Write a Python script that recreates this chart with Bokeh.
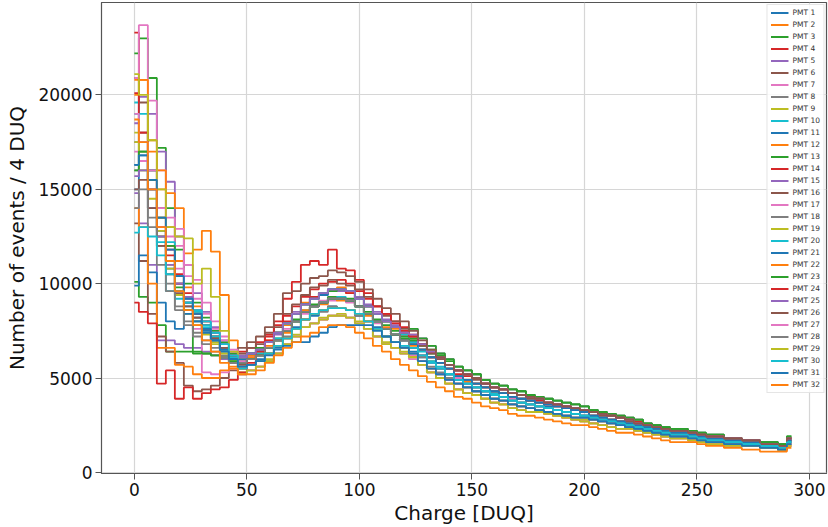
from bokeh.plotting import figure
from bokeh.models import Legend, LegendItem, FixedTicker, Range1d
from bokeh.embed import file_html
from bokeh.resources import INLINE

# Bin centres of the 4-DUQ charge bins (74 bins, 0 .. 292 DUQ)
charge = list(range(0, 293, 4))

# Counts per bin, in hundreds of events
UNIT = 100
pmt01 = [163,170,150,128,112,100,90,82,76,70,65,60,
         55,57,60,63,66,71,77,81,83,86,88,87,86,83,80,77,72,69,66,
         64,61,58,55,52,49,47,45,43,41, 40,38,37,36,35,34,33,32,31,30,
         29,28,27,26,25,24,23,22,21,21, 20,19,18,17,17,16,16,15,15,14, 14,13,16]
pmt02 = [208,208,176,150,130,112,98,88,80,74,68,63,
         61,62,65,70,74,78,84,90,92,95,96,98,95,93,88,84,80,76,73,
         69,65,61,58,55,51,49,47,45,43, 42,40,39,38,37,36,35,34,33,32,
         30,29,28,27,26,25,24,23,22,21, 21,20,19,18,18,17,17,16,16,15, 15,14,17]
pmt03 = [222,230,209,172,140,118,100,90,82,75,69,63,
         59,60,63,66,71,75,81,85,89,90,93,92,92,88,85,81,78,75,72,
         71,67,63,60,57,54,52,50,47,45, 44,42,41,40,39,37,36,35,34,33,
         32,31,30,29,28,26,25,24,23,22, 22,21,20,19,19,18,18,17,17,15, 15,14,18]
pmt04 = [233,180,160,135,120,105,95,86,80,74,68,62,
         64,66,69,73,78,83,88,93,97,100,101,102,100,96,92,88,84,80,77,
         73,68,64,61,57,54,51,50,47,45, 44,42,41,40,38,37,36,35,34,33,
         32,31,30,29,28,27,25,24,23,22, 22,21,20,19,19,18,18,17,16,15, 15,14,18]
pmt05 = [185,199,190,170,154,125,110,95,85,77,70,64,
         62,63,66,69,73,79,85,89,93,94,97,96,96,93,89,85,81,78,75,
         76,71,67,63,60,56,54,52,49,47, 46,44,43,41,40,39,38,37,36,35,
         33,32,31,30,29,28,26,25,24,23, 23,22,21,20,20,18,18,17,17,16, 16,15,18]
pmt06 = [209,196,160,140,118,104,93,85,78,72,66,61,
         63,66,68,74,77,84,89,94,98,99,102,100,99,97,93,88,83,80,76,
         72,68,64,60,57,54,52,49,47,45, 44,42,41,39,39,37,36,35,34,33,
         32,30,30,29,27,26,25,24,23,22, 22,21,20,19,18,18,17,17,16,15, 15,14,17]
pmt07 = [209,237,197,160,135,120,104,92,84,76,70,64,
         59,61,62,66,70,76,80,84,88,91,91,92,90,88,84,79,76,73,70,
         66,62,58,55,52,50,47,45,43,41, 40,39,37,36,35,34,33,32,31,30,
         29,28,27,26,25,24,23,22,21,20, 20,19,18,17,17,16,16,15,15,14, 14,13,16]
pmt08 = [160,180,150,130,112,100,90,82,76,71,66,61,
         56,57,59,63,67,72,76,81,84,85,88,87,86,83,80,76,72,69,66,
         63,59,55,52,49,47,45,43,41,39, 38,36,35,34,33,32,31,30,29,29,
         28,27,26,25,24,23,22,21,20,19, 19,18,17,16,16,15,15,14,14,13, 13,12,15]
pmt09 = [180,170,150,128,110,96,86,80,74,69,64,60,
         53,54,56,60,63,68,73,77,79,82,83,84,82,80,76,72,69,66,64,
         62,59,55,52,50,47,45,43,41,39, 38,36,35,34,33,32,31,30,29,28,
         28,27,26,25,24,23,22,21,20,19, 19,18,17,16,16,15,15,14,14,13, 13,12,15]
pmt10 = [196,190,160,130,122,104,92,84,77,71,66,61,
         58,60,63,66,71,75,80,86,88,90,92,93,91,88,84,80,76,73,70,
         66,62,58,55,52,49,47,45,43,42, 40,38,37,36,35,34,33,32,31,30,
         29,28,27,26,25,24,23,22,21,20, 20,19,18,17,17,16,16,15,15,14, 14,13,16]
pmt11 = [150,168,150,125,108,96,88,80,75,70,65,60,
         60,63,65,69,74,79,84,89,92,94,97,97,96,92,88,84,80,77,74,
         69,65,61,58,55,51,49,47,45,43, 42,40,39,38,37,35,35,34,33,32,
         30,29,28,27,26,25,24,23,22,21, 21,20,19,18,18,17,17,16,16,15, 15,14,17]
pmt12 = [200,208,170,160,148,140,116,118,128,117,94,70,
         58,61,62,67,70,74,80,86,88,89,92,91,91,88,83,80,77,73,70,
         67,62,59,55,52,49,48,45,43,41, 40,38,37,36,35,34,33,32,31,30,
         29,28,27,26,25,24,23,22,21,20, 20,19,18,17,17,16,16,15,15,14, 14,13,16]
pmt13 = [101,93,90,78,64,64,64,63,63,62,60,58,
         61,63,66,69,74,79,84,89,92,95,96,97,96,92,88,84,80,77,74,
         76,71,67,63,60,56,54,52,49,47, 46,44,43,41,40,39,38,37,36,35,
         33,32,31,30,29,28,26,25,24,23, 23,22,21,20,20,18,18,17,17,16, 16,15,19]
pmt14 = [201,180,155,130,115,100,90,84,78,72,66,61,
         61,63,65,70,74,80,84,89,93,95,97,97,95,92,88,84,80,77,73,
         69,65,61,58,55,52,49,47,45,43, 42,40,39,38,37,36,35,34,33,32,
         30,29,28,27,26,25,24,23,22,21, 21,20,19,18,18,17,17,16,16,15, 15,14,17]
pmt15 = [148,132,110,70,70,68,66,66,64,62,60,58,
         55,57,59,63,67,71,76,81,84,86,87,87,86,84,80,76,72,69,67,
         66,62,58,55,52,49,47,45,43,41, 40,38,37,36,35,34,33,32,31,30,
         29,28,27,26,25,24,23,22,21,20, 20,19,18,17,17,16,16,15,15,14, 14,13,16]
pmt16 = [132,112,84,72,64,58,46,43,44,46,50,54,
         57,60,62,66,70,75,80,85,88,90,92,92,91,88,84,80,76,73,70,
         70,67,63,60,57,54,52,50,47,45, 44,42,41,40,39,37,36,35,34,33,
         32,31,30,29,28,26,25,24,23,22, 22,21,20,19,19,18,18,17,17,15, 15,14,18]
pmt17 = [170,165,150,130,118,108,92,76,53,52,53,55,
         52,54,56,59,63,68,72,77,79,81,83,83,82,79,76,72,68,66,63,
         62,59,55,52,49,47,45,43,41,39, 38,36,35,34,33,32,31,30,29,29,
         28,27,26,25,24,23,22,21,20,19, 19,18,17,16,16,15,15,14,14,13, 13,12,15]
pmt18 = [175,160,135,120,100,88,80,74,70,66,62,58,
         58,60,62,66,70,75,80,85,88,90,92,92,91,88,84,80,76,73,70,
         68,65,61,58,55,51,49,47,45,43, 42,40,39,38,37,36,35,34,33,32,
         30,29,28,27,26,25,24,23,22,21, 21,20,19,18,18,17,17,16,16,15, 15,14,17]
pmt19 = [175,160,145,125,108,94,84,78,73,68,63,59,
         55,57,59,63,67,71,76,81,84,86,87,87,86,84,80,76,72,69,66,
         61,57,53,50,47,44,42,41,39,37, 36,34,33,32,32,31,30,29,28,27,
         26,25,24,23,23,22,21,20,19,18, 18,17,16,15,15,14,14,14,14,13, 13,12,14]
pmt20 = [190,175,140,122,96,92,90,85,78,72,66,61,
         61,63,65,69,74,79,84,89,92,95,97,97,96,92,88,84,80,77,73,
         69,64,59,56,52,49,47,45,43,41, 40,38,37,36,35,34,33,32,31,30,
         29,28,27,26,25,24,23,22,21,20, 20,19,18,17,17,16,16,15,15,14, 14,13,16]
pmt21 = [99,115,106,90,80,76,84,80,74,70,65,60,
         58,60,62,66,70,75,80,85,88,90,92,92,91,88,84,80,76,73,70,
         68,65,61,58,55,51,49,47,45,43, 42,40,39,38,37,36,35,34,33,32,
         30,29,28,27,26,25,24,23,22,21, 21,20,19,18,18,17,17,16,16,15, 15,14,17]
pmt22 = [140,130,100,66,66,57,56,52,50,50,54,56,
         55,57,59,63,67,71,76,81,84,86,87,87,86,84,80,76,72,69,66,
         61,57,53,50,47,44,42,41,39,37, 36,34,33,32,32,31,30,29,28,27,
         26,25,24,23,23,22,21,20,19,18, 18,17,16,15,15,14,14,14,14,13, 13,12,14]
pmt23 = [160,170,155,135,120,98,86,64,63,62,61,59,
         58,60,62,66,70,75,80,85,88,90,92,92,91,88,84,80,76,73,71,
         70,68,65,62,59,56,54,52,49,47, 46,44,43,41,40,39,38,37,36,35,
         33,32,31,30,29,28,26,25,24,23, 23,22,21,20,20,18,18,17,17,16, 16,15,19]
pmt24 = [90,85,79,47,54,39,45,39,42,44,45,49,
         53,58,64,72,80,92,101,110,112,110,118,108,107,102,95,88,84,79,75,
         72,68,64,61,57,54,52,50,47,45, 44,42,41,40,39,37,36,35,34,33,
         32,31,30,29,28,26,25,24,23,22, 22,21,20,19,19,18,18,17,17,15, 15,14,18]
pmt25 = [157,160,140,125,110,100,93,86,80,74,68,62,
         61,63,65,69,74,79,84,89,92,95,97,97,96,92,88,84,80,77,74,
         73,68,64,61,57,54,52,50,47,45, 44,42,41,40,39,37,36,35,34,33,
         32,31,30,29,28,26,25,24,23,22, 22,21,20,19,19,18,18,17,17,15, 15,14,18]
pmt26 = [150,155,140,120,105,95,88,82,76,71,66,62,
         66,69,72,77,84,95,96,100,103,104,107,106,104,101,97,92,87,84,80,
         75,70,65,61,57,54,52,50,47,45, 44,42,41,40,39,37,36,35,34,33,
         32,31,30,29,28,26,25,24,23,22, 22,21,20,19,19,18,18,17,17,15, 15,14,18]
pmt27 = [190,175,160,140,125,129,110,102,90,80,72,65,
         52,54,56,59,63,68,72,77,79,81,83,83,82,79,76,72,68,66,63,
         60,57,53,50,47,44,42,41,39,37, 36,34,33,32,32,31,30,29,28,27,
         26,25,24,23,23,22,21,20,19,18, 18,17,16,15,15,14,14,14,14,13, 13,12,14]
pmt28 = [140,150,130,110,96,86,78,72,68,64,61,58,
         58,60,62,66,70,75,80,85,88,90,92,92,91,88,84,80,76,73,70,
         66,61,56,53,50,47,45,43,41,39, 38,36,35,34,33,32,31,30,29,29,
         28,27,26,25,24,23,22,21,20,19, 19,18,17,16,16,15,15,14,14,13, 13,12,15]
pmt29 = [211,200,176,150,130,125,124,100,108,93,75,64,
         52,54,56,59,63,68,72,77,79,81,83,83,82,79,76,72,68,66,63,
         61,57,53,50,47,44,42,41,39,37, 36,34,33,32,32,31,30,29,28,27,
         26,25,24,23,23,22,21,20,19,18, 18,17,16,15,15,14,14,14,14,13, 13,12,14]
pmt30 = [127,130,125,115,105,96,90,86,80,74,68,62,
         55,57,59,63,67,71,76,81,84,86,87,87,86,84,80,76,72,69,67,
         66,62,58,55,52,49,47,45,43,41, 40,38,37,36,35,34,33,32,31,30,
         29,28,27,26,25,24,23,22,21,20, 20,19,18,17,17,16,16,15,15,14, 14,13,16]
pmt31 = [163,168,155,135,118,104,92,84,76,70,64,60,
         56,57,59,62,65,67,69,69,72,74,77,78,78,78,78,75,72,69,66,
         63,59,55,52,49,47,45,43,41,39, 38,36,35,34,33,32,31,30,29,29,
         28,27,26,25,24,23,22,21,20,19, 19,18,17,16,16,15,15,14,14,13, 13,12,15]
pmt32 = [187,175,150,130,112,96,86,78,70,64,58,55,
         52,52,54,58,62,66,69,72,74,77,78,78,77,74,71,67,64,60,57,
         54,51,48,45,43,40,39,37,35,34, 33,31,30,30,29,28,27,26,25,25,
         24,23,22,21,21,20,19,18,17,16, 16,16,15,14,14,13,13,12,12,11, 11,11,13]

series = [pmt01, pmt02, pmt03, pmt04, pmt05, pmt06, pmt07, pmt08,
          pmt09, pmt10, pmt11, pmt12, pmt13, pmt14, pmt15, pmt16,
          pmt17, pmt18, pmt19, pmt20, pmt21, pmt22, pmt23, pmt24,
          pmt25, pmt26, pmt27, pmt28, pmt29, pmt30, pmt31, pmt32]
labels = [f"PMT {i + 1}" for i in range(len(series))]

x_ticks = [0, 50, 100, 150, 200, 250, 300]
y_ticks = [0, 5000, 10000, 15000, 20000]

colors = ["#1f77b4", "#ff7f0e", "#2ca02c", "#d62728", "#9467bd",
          "#8c564b", "#e377c2", "#7f7f7f", "#bcbd22", "#17becf"]

FONT = "DejaVu Sans"

p = figure(width=828, height=527, x_range=Range1d(-14.6, 307.6),
           y_range=Range1d(-60, 24900), output_backend="svg",
           toolbar_location=None, min_border_left=101, min_border_right=2,
           min_border_top=2, min_border_bottom=54)
p.background_fill_color = "white"
p.border_fill_color = "white"
p.outline_line_color = "#555555"
p.outline_line_width = 1.2

items = []
for i, vals in enumerate(series):
    ys = [v * UNIT for v in vals]
    r = p.step(charge[:len(ys)], ys, mode="center",
               line_color=colors[i % 10], line_width=1.8)
    items.append(LegendItem(label=labels[i], renderers=[r]))

legend = Legend(items=items, location="top_right",
                label_text_font=FONT, label_text_font_size="7.5px",
                label_text_color="#333333",
                glyph_width=18, glyph_height=9, label_height=9,
                label_standoff=4, spacing=3, padding=3, margin=2,
                border_line_color="#cccccc", border_line_width=1,
                background_fill_color="white", background_fill_alpha=0.85)
p.add_layout(legend)

for ax in (p.xaxis, p.yaxis):
    ax.axis_label_text_font = FONT
    ax.axis_label_text_font_size = "20px"
    ax.axis_label_text_font_style = "normal"
    ax.axis_label_text_color = "#111111"
    ax.major_label_text_font = FONT
    ax.major_label_text_font_size = "17px"
    ax.major_label_text_color = "#111111"
    ax.axis_line_color = "#555555"
    ax.major_tick_line_color = "#555555"
    ax.major_tick_out = 6
    ax.major_tick_in = 0
    ax.minor_tick_line_color = None

p.xaxis.axis_label = "Charge [DUQ]"
p.yaxis.axis_label = "Number of events / 4 DUQ"
p.xaxis.ticker = FixedTicker(ticks=x_ticks)
p.yaxis.ticker = FixedTicker(ticks=y_ticks)
p.xaxis.major_label_standoff = 3
p.xaxis.axis_label_standoff = 2
p.yaxis.major_label_standoff = 3
p.yaxis.axis_label_standoff = 6

p.grid.grid_line_color = "#d6d6d6"
p.grid.grid_line_width = 1.2

open("out.html", "w").write(file_html(p, INLINE))
